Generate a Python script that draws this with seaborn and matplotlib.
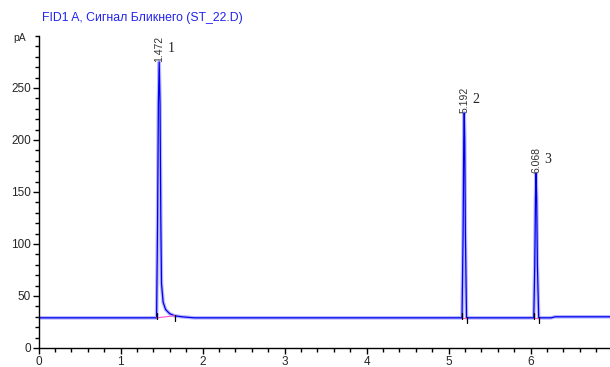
import matplotlib
matplotlib.use("Agg")
import matplotlib.pyplot as plt
from matplotlib.ticker import MultipleLocator
import seaborn as sns
import pandas as pd

sns.set_style("ticks")
plt.rcParams['font.family'] = ['Liberation Sans', 'DejaVu Sans']

# Signal trace (time, min ; signal, pA)
time = [0.0, 1.44, 1.452, 1.462, 1.472, 1.482, 1.492, 1.50, 1.52, 1.55, 1.60, 1.66, 1.75, 1.9,
        5.165, 5.178, 5.186, 5.192, 5.198, 5.206, 5.22,
        6.04, 6.052, 6.061, 6.068, 6.075, 6.084, 6.10, 6.25, 6.3, 7.2]
signal = [29, 29, 120, 235, 275, 235, 120, 62, 44, 37, 33, 31, 30, 29,
          29, 110, 200, 226, 200, 110, 29,
          29, 80, 145, 168, 145, 80, 29, 29, 30, 30]

peak_rt = [1.472, 5.192, 6.068]
peak_top = [275, 226, 168]
peak_num = ["1", "2", "3"]
peak_start = [1.44, 5.165, 6.04]
peak_end = [1.66, 5.22, 6.10]
base_start = [29, 29, 29]
base_end = [31, 29, 29]

title = "FID1 A, Сигнал Бликнего (ST_22.D)"

df = pd.DataFrame({"t": time, "s": signal})

fig = plt.figure(figsize=(6.1, 3.67), dpi=100)
ax = fig.add_axes([38.5/610, 19/367, 574/610, 312/367])

sns.lineplot(data=df, x="t", y="s", ax=ax, color="#b8b8ff", lw=2.6, estimator=None, sort=False)
sns.lineplot(data=df, x="t", y="s", ax=ax, color="#0000ee", lw=0.9, estimator=None, sort=False)

for s0, s1, b0, b1 in zip(peak_start, peak_end, base_start, base_end):
    ax.plot([s0, s1], [b0, b1], color="#ff55cc", lw=0.8)
    ax.plot([s0, s0], [b0 - 1, b0 + 5], color="black", lw=0.9)
    ax.plot([s1, s1], [b1 - 5, b1 + 1], color="black", lw=0.9)

for rt, top, n in zip(peak_rt, peak_top, peak_num):
    ax.text(rt, top, f"{rt:.3f}", rotation=90, ha="center", va="bottom",
            fontsize=7.5, color="#333333")
    ax.text(rt + 0.1, top + 13, n, fontsize=10, family=["Liberation Serif", "DejaVu Serif"],
            ha="left", va="center", color="#222222")

ax.set_xlim(0, 7)
ax.set_ylim(0, 300)
ax.xaxis.set_major_locator(MultipleLocator(1))
ax.xaxis.set_minor_locator(MultipleLocator(0.2))
ax.set_yticks([0, 50, 100, 150, 200, 250])
ax.yaxis.set_minor_locator(MultipleLocator(10))
ax.tick_params(axis="both", which="major", length=4, width=1, labelsize=8.5, direction="out",
               color="black", pad=1.5)
ax.tick_params(axis="both", which="minor", length=3, width=1, direction="out", color="black")
ax.set_xlabel("")
ax.set_ylabel("")
for sp in ["top", "right"]:
    ax.spines[sp].set_visible(False)
for sp in ["left", "bottom"]:
    ax.spines[sp].set_linewidth(1.0)
    ax.spines[sp].set_color("black")
ax.set_facecolor("white")
ax.grid(False)

fig.text(42/610, 1 - 18/367, title, color="#2222ee", fontsize=8.8, va="center", ha="left")
fig.text(13/610, 1 - 38/367, "pA", fontsize=7.5, va="center", ha="left")

fig.savefig("out.png", dpi=100, facecolor="white")
